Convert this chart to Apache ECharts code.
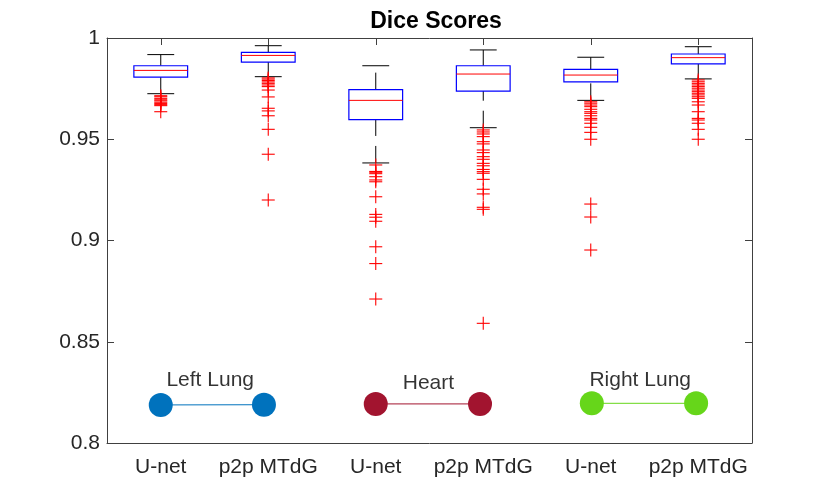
<!doctype html>
<html>
<head>
<meta charset="utf-8">
<title>Dice Scores</title>
<script src="https://cdn.jsdelivr.net/npm/echarts@6/dist/echarts.min.js"></script>
<style>
  html, body { margin: 0; padding: 0; background: #fff; }
  #main { width: 830px; height: 498px; }
</style>
</head>
<body>
<div id="main"></div>
<script>
// tick labels / categories
var methods = ['U-net', 'p2p MTdG'];
var organs = ['Left Lung', 'Heart', 'Right Lung'];
var yTicks = [0.8, 0.85, 0.9, 0.95, 1];

// box stats per group: [lower whisker, q1, median, q3, upper whisker]
var leftUnet  = [0.9725, 0.9807, 0.9840, 0.9863, 0.9918];
var leftP2p   = [0.9809, 0.9881, 0.9914, 0.9929, 0.9962];
var heartUnet = [0.9383, 0.9597, 0.9692, 0.9745, 0.9863];
var heartP2p  = [0.9557, 0.9738, 0.9822, 0.9863, 0.9941];
var rightUnet = [0.9692, 0.9783, 0.9817, 0.9845, 0.9905];
var rightP2p  = [0.9798, 0.9872, 0.9903, 0.9921, 0.9957];

// outliers per group
var leftUnetOut  = [0.9715, 0.9710, 0.9702, 0.9695, 0.9690, 0.9683, 0.9677, 0.9671, 0.9666, 0.9636];
var leftP2pOut   = [0.9803, 0.9797, 0.9790, 0.9783, 0.9776, 0.9768, 0.9760, 0.9743, 0.9709,
                    0.9653, 0.9640, 0.9616, 0.9549, 0.9426, 0.9200];
var heartUnetOut = [0.9373, 0.9341, 0.9337, 0.9330, 0.9315, 0.9299, 0.9290, 0.9216, 0.9129,
                    0.9115, 0.9095, 0.8969, 0.8886, 0.8711];
var heartP2pOut  = [0.9546, 0.9536, 0.9526, 0.9513, 0.9488, 0.9477, 0.9447, 0.9434, 0.9414,
                    0.9401, 0.9381, 0.9369, 0.9351, 0.9340, 0.9332, 0.9302, 0.9253, 0.9230,
                    0.9164, 0.9154, 0.8591];
var rightUnetOut = [0.9685, 0.9678, 0.9669, 0.9661, 0.9648, 0.9636, 0.9628, 0.9616, 0.9603,
                    0.9595, 0.9579, 0.9559, 0.9534, 0.9500, 0.9180, 0.9116, 0.8953];
var rightP2pOut  = [0.9793, 0.9784, 0.9776, 0.9768, 0.9760, 0.9752, 0.9743, 0.9735, 0.9727,
                    0.9719, 0.9710, 0.9702, 0.9685, 0.9669, 0.9636, 0.9603, 0.9595, 0.9579,
                    0.9549, 0.9500];

// legend-like markers inside the plot (x in category units, 1 = first box)
var markerX = [[1, 1.96], [3, 3.97], [5.01, 5.98]];
var markerY = [[0.8188, 0.8189], [0.8193, 0.8193], [0.8196, 0.8196]];
var organLabelX = [1.46, 3.49, 5.46];
var organLabelY = [0.8311, 0.8296, 0.8311];
var organColors = ['#0072BD', '#A2142F', '#66D61A'];

var boxes = [leftUnet, leftP2p, heartUnet, heartP2p, rightUnet, rightP2p];
var outs = [leftUnetOut, leftP2pOut, heartUnetOut, heartP2pOut, rightUnetOut, rightP2pOut];

var boxData = boxes.map(function (b, i) { return [i].concat(b); });
var outData = [];
outs.forEach(function (arr, i) {
  arr.forEach(function (v) { outData.push([i, v]); });
});

var chart = echarts.init(document.getElementById('main'));
var font = 'Liberation Sans, Arial, Helvetica, sans-serif';
var axisCol = '#404040';
var textCol = '#262626';

function renderBox(params, api) {
  var i = api.value(0);
  var lo = api.coord([i, api.value(1)]);
  var q1 = api.coord([i, api.value(2)]);
  var md = api.coord([i, api.value(3)]);
  var q3 = api.coord([i, api.value(4)]);
  var hi = api.coord([i, api.value(5)]);
  var cw = api.size([1, 0])[0];
  var hw = cw * 0.25, cap = cw * 0.125, x = lo[0];
  var dash = { stroke: '#000', lineWidth: 1, lineDash: [17, 10] };
  var solid = { stroke: '#000', lineWidth: 1 };
  return {
    type: 'group',
    children: [
      { type: 'line', shape: { x1: x, y1: lo[1], x2: x, y2: q1[1] }, style: dash },
      { type: 'line', shape: { x1: x, y1: q3[1], x2: x, y2: hi[1] }, style: dash },
      { type: 'line', shape: { x1: x - cap, y1: lo[1], x2: x + cap, y2: lo[1] }, style: solid },
      { type: 'line', shape: { x1: x - cap, y1: hi[1], x2: x + cap, y2: hi[1] }, style: solid },
      { type: 'rect', shape: { x: x - hw, y: q3[1], width: hw * 2, height: q1[1] - q3[1] },
        style: { fill: '#fff', stroke: '#0000FF', lineWidth: 1.2 } },
      { type: 'line', shape: { x1: x - hw, y1: md[1], x2: x + hw, y2: md[1] },
        style: { stroke: '#FF0000', lineWidth: 1 } }
    ]
  };
}

function renderPlus(params, api) {
  var p = api.coord([api.value(0), api.value(1)]);
  var s = 6.5;
  var st = { stroke: '#FF0000', lineWidth: 1.1 };
  return {
    type: 'group',
    children: [
      { type: 'line', shape: { x1: p[0] - s, y1: p[1], x2: p[0] + s, y2: p[1] }, style: st },
      { type: 'line', shape: { x1: p[0], y1: p[1] - s, x2: p[0], y2: p[1] + s }, style: st }
    ]
  };
}

var series = [
  { type: 'custom', xAxisIndex: 0, yAxisIndex: 0, renderItem: renderBox, data: boxData, z: 3 },
  { type: 'custom', xAxisIndex: 0, yAxisIndex: 0, renderItem: renderPlus, data: outData, z: 4 }
];

organs.forEach(function (name, k) {
  series.push({
    type: 'line',
    xAxisIndex: 2,
    yAxisIndex: 0,
    data: [[markerX[k][0], markerY[k][0]], [markerX[k][1], markerY[k][1]]],
    symbol: 'circle',
    symbolSize: 24,
    lineStyle: { color: organColors[k], width: 1 },
    itemStyle: { color: organColors[k] },
    silent: true,
    z: 5
  });
  series.push({
    type: 'scatter',
    xAxisIndex: 2,
    yAxisIndex: 0,
    data: [[organLabelX[k], organLabelY[k]]],
    symbolSize: 0,
    label: {
      show: true, position: 'inside', formatter: name,
      color: '#000', textBorderWidth: 0, fontFamily: font, fontSize: 21
    },
    silent: true,
    z: 6
  });
});

chart.setOption({
  animation: false,
  backgroundColor: '#fff',
  title: {
    text: 'Dice Scores',
    left: 431, top: 5, textAlign: 'center',
    textStyle: { fontFamily: font, fontSize: 23, fontWeight: 'bold', color: '#000' }
  },
  grid: { left: 107, right: 78, top: 38, bottom: 55 },
  xAxis: [
    {
      type: 'category', position: 'bottom',
      data: [0, 1, 2, 3, 4, 5],
      axisLine: { lineStyle: { color: axisCol, width: 1 } },
      axisTick: { inside: true, alignWithLabel: true, interval: 0, length: 7, lineStyle: { color: axisCol } },
      axisLabel: {
        interval: 0, margin: 14, color: textCol, fontFamily: font, fontSize: 21,
        formatter: function (v, i) { return methods[i % 2]; }
      },
      splitLine: { show: false }
    },
    {
      type: 'category', position: 'top',
      data: [0, 1, 2, 3, 4, 5],
      axisLine: { lineStyle: { color: axisCol, width: 1 } },
      axisTick: { show: true, inside: true, alignWithLabel: true, interval: 0, length: 7, lineStyle: { color: axisCol } },
      axisLabel: { show: false, interval: 0 },
      splitLine: { show: false }
    },
    { type: 'value', min: 0.5, max: 6.5, show: false }
  ],
  yAxis: [
    {
      type: 'value', position: 'left',
      min: yTicks[0], max: yTicks[yTicks.length - 1], interval: 0.05,
      axisLine: { show: true, lineStyle: { color: axisCol, width: 1 } },
      axisTick: { show: true, inside: true, length: 7, lineStyle: { color: axisCol } },
      axisLabel: {
        margin: 7, color: textCol, fontFamily: font, fontSize: 21,
        formatter: function (v) { return String(+v.toFixed(2)); }
      },
      splitLine: { show: false }
    },
    {
      type: 'value', position: 'right',
      min: yTicks[0], max: yTicks[yTicks.length - 1], interval: 0.05,
      axisLine: { show: true, lineStyle: { color: axisCol, width: 1 } },
      axisTick: { show: true, inside: true, length: 7, lineStyle: { color: axisCol } },
      axisLabel: { show: false },
      splitLine: { show: false }
    }
  ],
  series: series
});
</script>
</body>
</html>
